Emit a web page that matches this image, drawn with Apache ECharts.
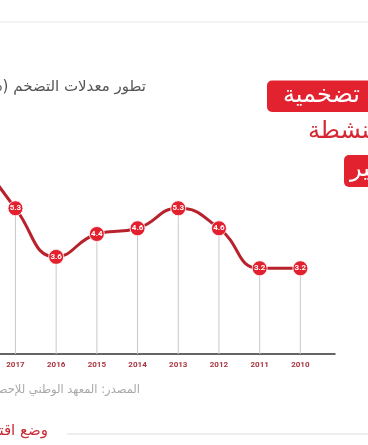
<!DOCTYPE html>
<html>
<head>
<meta charset="utf-8">
<script src="https://cdn.jsdelivr.net/npm/echarts@6/dist/echarts.min.js"></script>
<style>
html,body{margin:0;padding:0;background:#fff;}
#c{width:368px;height:445px;}
</style>
</head>
<body>
<div id="c"></div>
<script>
var years = ['2010','2011','2012','2013','2014','2015','2016','2017','2018'];
var inflation = [3.2, 3.2, 4.6, 5.3, 4.6, 4.4, 3.6, 5.3, 7.3];
var titleText = '(%) تطور معدلات التضخم';
var sourceText = 'المصدر: المعهد الوطني للإحصاء';

var ar = "'DejaVu Sans', 'Noto Sans', sans-serif";
var chart = echarts.init(document.getElementById('c'), null, {renderer: 'canvas'});
chart.setOption({
  animation: false,
  backgroundColor: '#ffffff',
  grid: [
    {left: -45.6, right: 47.3, top: 68.3, bottom: 91, containLabel: false, outerBoundsMode: 'none'},
    {left: -45.6, right: 33, top: 68.3, bottom: 91, containLabel: false, outerBoundsMode: 'none'}
  ],
  xAxis: [
    {
      type: 'category', gridIndex: 0, data: years, inverse: true, boundaryGap: true,
      axisLine: {show: false}, axisTick: {show: false},
      axisLabel: {color: '#a93440', fontSize: 8, fontWeight: 'bold', fontFamily: 'Roboto, sans-serif', margin: 7},
      splitLine: {show: false}
    },
    {
      type: 'value', gridIndex: 1, min: 0, max: 1,
      axisLine: {show: true, lineStyle: {color: '#333333', width: 1.5}},
      axisTick: {show: false}, axisLabel: {show: false}, splitLine: {show: false}
    }
  ],
  yAxis: [
    {type: 'value', gridIndex: 0, min: 0.2, max: 10.2, show: false, splitLine: {show: false}},
    {type: 'value', gridIndex: 1, min: 0, max: 1, show: false, splitLine: {show: false}}
  ],
  series: [
    {
      type: 'bar', xAxisIndex: 0, yAxisIndex: 0, data: inflation, barWidth: 1,
      itemStyle: {color: '#c9c9c9'}, z: 1, silent: true
    },
    {
      type: 'line', xAxisIndex: 0, yAxisIndex: 0, data: inflation, smooth: true,
      symbol: 'circle', symbolSize: 15, z: 3,
      lineStyle: {color: '#b8222c', width: 3},
      itemStyle: {color: '#e3202e', borderColor: '#ffffff', borderWidth: 0.8},
      label: {
        show: true, position: 'inside', color: '#ffffff', fontSize: 8, fontWeight: 'bold',
        fontFamily: 'Roboto, sans-serif',
        formatter: function (p) { return p.value.toFixed(1); }
      }
    }
  ],
  graphic: [
    {type: 'line', shape: {x1: 0, y1: 22, x2: 368, y2: 22}, style: {stroke: '#e6e6e6', lineWidth: 1}},
    {type: 'text', x: 146, y: 87, style: {text: titleText, fill: '#555555', font: '15px ' + ar, textAlign: 'right', textVerticalAlign: 'middle'}},
    {type: 'rect', shape: {x: 267, y: 80.5, width: 120, height: 31.5, r: 5}, style: {fill: '#e3222f'}},
    {type: 'text', x: 283, y: 96, style: {text: 'تضخمية', fill: '#ffffff', font: '24px ' + ar, textAlign: 'left', textVerticalAlign: 'middle'}},
    {type: 'text', x: 308, y: 132, style: {text: 'النشطة', fill: '#d52734', font: '24px ' + ar, textAlign: 'left', textVerticalAlign: 'middle'}},
    {type: 'rect', shape: {x: 344, y: 155, width: 40, height: 32, r: 5}, style: {fill: '#e3222f'}},
    {type: 'text', x: 350, y: 170, style: {text: 'كبير', fill: '#ffffff', font: '24px ' + ar, textAlign: 'left', textVerticalAlign: 'middle'}},
    {type: 'text', x: 140, y: 390, style: {text: sourceText, fill: '#a8a8a8', font: '11.5px ' + ar, textAlign: 'right', textVerticalAlign: 'middle'}},
    {type: 'text', x: 48, y: 431, style: {text: 'وضع اقتصادي', fill: '#c92b36', font: '15px ' + ar, textAlign: 'right', textVerticalAlign: 'middle'}},
    {type: 'line', shape: {x1: 67, y1: 434, x2: 368, y2: 434}, style: {stroke: '#dddddd', lineWidth: 1}}
  ]
});
</script>
</body>
</html>
